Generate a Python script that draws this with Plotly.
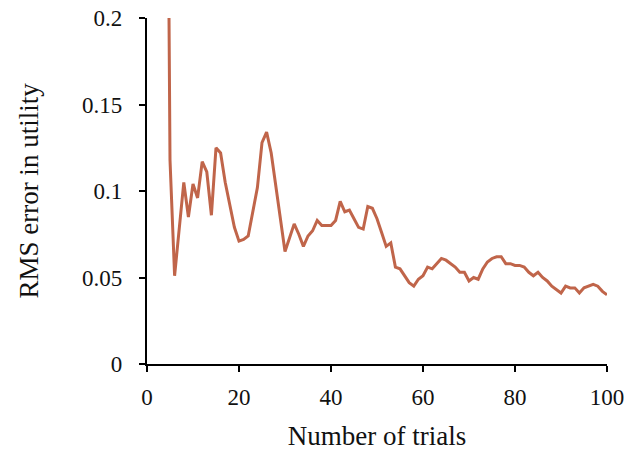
import plotly.graph_objects as go

# Trial number and RMS error of the learned utility after that many trials
trials = list(range(4, 101))
rms_error = [
    0.500, 0.118, 0.051, 0.078, 0.105, 0.085, 0.104,            # 4-10
    0.096, 0.117, 0.111, 0.086, 0.125, 0.122, 0.105, 0.091, 0.079, 0.071,  # 11-20
    0.072, 0.074, 0.088, 0.102, 0.128, 0.134, 0.122, 0.103, 0.083, 0.065,  # 21-30
    0.073, 0.081, 0.075, 0.068, 0.074, 0.077, 0.083, 0.080, 0.080, 0.080,  # 31-40
    0.083, 0.094, 0.088, 0.089, 0.084, 0.079, 0.078, 0.091, 0.090, 0.084,  # 41-50
    0.076, 0.068, 0.070, 0.056, 0.055, 0.051, 0.047, 0.045, 0.049, 0.051,  # 51-60
    0.056, 0.055, 0.058, 0.061, 0.060, 0.058, 0.056, 0.053, 0.053, 0.048,  # 61-70
    0.050, 0.049, 0.055, 0.059, 0.061, 0.062, 0.062, 0.058, 0.058, 0.057,  # 71-80
    0.057, 0.056, 0.053, 0.051, 0.053, 0.050, 0.048, 0.045, 0.043, 0.041,  # 81-90
    0.045, 0.044, 0.044, 0.041, 0.044, 0.045, 0.046, 0.045, 0.042, 0.040,  # 91-100
]

x_ticks = [0, 20, 40, 60, 80, 100]
y_ticks = [0, 0.05, 0.1, 0.15, 0.2]
y_tick_text = ["0", "0.05", "0.1", "0.15", "0.2"]

FONT = "Liberation Serif, Times New Roman, serif"

fig = go.Figure(
    go.Scatter(
        x=trials,
        y=rms_error,
        mode="lines",
        line=dict(color="#C0654A", width=3),
        showlegend=False,
    )
)

fig.update_layout(
    width=631,
    height=452,
    margin=dict(l=147, r=24, t=18, b=88),
    paper_bgcolor="white",
    plot_bgcolor="white",
    font=dict(family=FONT, size=23, color="#111111"),
)

fig.update_xaxes(
    range=[0, 100],
    tickvals=x_ticks,
    ticks="outside",
    ticklen=6,
    tickwidth=1.5,
    tickcolor="black",
    showline=True,
    linecolor="black",
    linewidth=2.2,
    showgrid=False,
    zeroline=False,
    automargin=False,
    ticklabelstandoff=5,
    title=dict(text="Number of trials", font=dict(family=FONT, size=27), standoff=17),
)

fig.update_yaxes(
    range=[0, 0.2],
    tickvals=y_ticks,
    ticktext=y_tick_text,
    ticks="outside",
    ticklen=6,
    tickwidth=1.5,
    tickcolor="black",
    showline=True,
    linecolor="black",
    linewidth=2.2,
    showgrid=False,
    zeroline=False,
    automargin=False,
    ticklabelstandoff=12,
    title=dict(text="RMS error in utility", font=dict(family=FONT, size=27), standoff=36),
)

fig.write_html("out.html")
